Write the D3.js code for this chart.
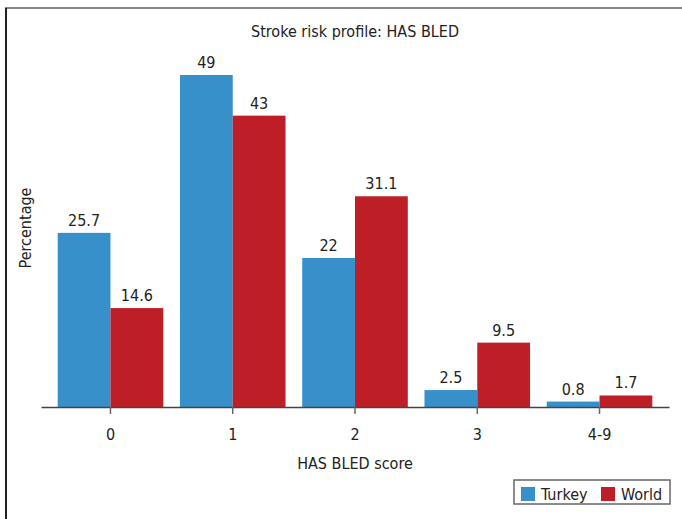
<!DOCTYPE html>
<html><head><meta charset="utf-8">
<script src="https://cdn.jsdelivr.net/npm/d3@7"></script>
<style>
body{margin:0;background:#fff;}
text{font-family:"Liberation Sans Narrow","DejaVu Sans Condensed","Roboto",sans-serif;font-stretch:condensed;fill:#222;}
</style></head>
<body><svg id="c" width="682" height="519"></svg>
<script>
const categories = ["0","1","2","3","4-9"];
const seriesNames = ["Turkey","World"];
const turkey = [25.7,49,22,2.5,0.8];
const world = [14.6,43,31.1,9.5,1.7];
const colors = ["#3790CA","#BE1E26"];
const fs = 16;

const svg = d3.select("#c");
// frame lines
svg.append("line").attr("x1",5).attr("x2",682).attr("y1",8).attr("y2",8).attr("stroke","#888").attr("stroke-width",2);
svg.append("line").attr("x1",6).attr("x2",6).attr("y1",8).attr("y2",519).attr("stroke","#222").attr("stroke-width",2);

const x = d3.scaleBand().domain(categories).range([41,669]).paddingInner(0.1365).paddingOuter(0.1365);
const xs = d3.scaleBand().domain(seriesNames).range([0,x.bandwidth()]);
const y = d3.scaleLinear().domain([0,49]).range([407,75]);

const data = categories.map((c,i)=>({cat:c, vals:[turkey[i],world[i]]}));

const g = svg.append("g");
const grp = g.selectAll("g.grp").data(data).join("g").attr("transform",d=>`translate(${x(d.cat)},0)`);
grp.selectAll("rect").data(d=>d.vals.map((v,j)=>({v,j}))).join("rect")
  .attr("x",d=>xs(seriesNames[d.j])).attr("width",xs.bandwidth())
  .attr("y",d=>y(d.v)).attr("height",d=>y(0)-y(d.v)).attr("fill",d=>colors[d.j]);
grp.selectAll("text").data(d=>d.vals.map((v,j)=>({v,j}))).join("text")
  .attr("x",d=>xs(seriesNames[d.j])+xs.bandwidth()/2).attr("y",d=>y(d.v)-7)
  .attr("text-anchor","middle").attr("font-size",fs).text(d=>d.v);

// x axis
const ax = svg.append("g").attr("transform","translate(0,407)")
  .call(d3.axisBottom(x).tickSize(7).tickPadding(15).tickSizeOuter(0));
ax.select(".domain").attr("stroke","#444").attr("stroke-width",1.5);
ax.selectAll(".tick line").attr("stroke","#666").attr("stroke-width",1.5);
ax.selectAll(".tick text").attr("font-size",fs).attr("fill","#222").style("font-family",null);

// titles
svg.append("text").attr("x",355).attr("y",37).attr("text-anchor","middle").attr("font-size",fs).text("Stroke risk profile: HAS BLED");
svg.append("text").attr("x",355).attr("y",469).attr("text-anchor","middle").attr("font-size",fs).text("HAS BLED score");
svg.append("text").attr("transform","translate(31,228) rotate(-90)").attr("text-anchor","middle").attr("font-size",fs).text("Percentage");

// legend
const lg = svg.append("g");
lg.append("rect").attr("x",514).attr("y",480).attr("width",156).attr("height",24).attr("fill","#fff").attr("stroke","#666").attr("stroke-width",1.5);
const lx = [521,601];
seriesNames.forEach((s,i)=>{
  lg.append("rect").attr("x",lx[i]).attr("y",487).attr("width",14).attr("height",14).attr("fill",colors[i]);
  lg.append("text").attr("x",lx[i]+20).attr("y",500).attr("font-size",fs).text(s);
});
</script></body></html>
